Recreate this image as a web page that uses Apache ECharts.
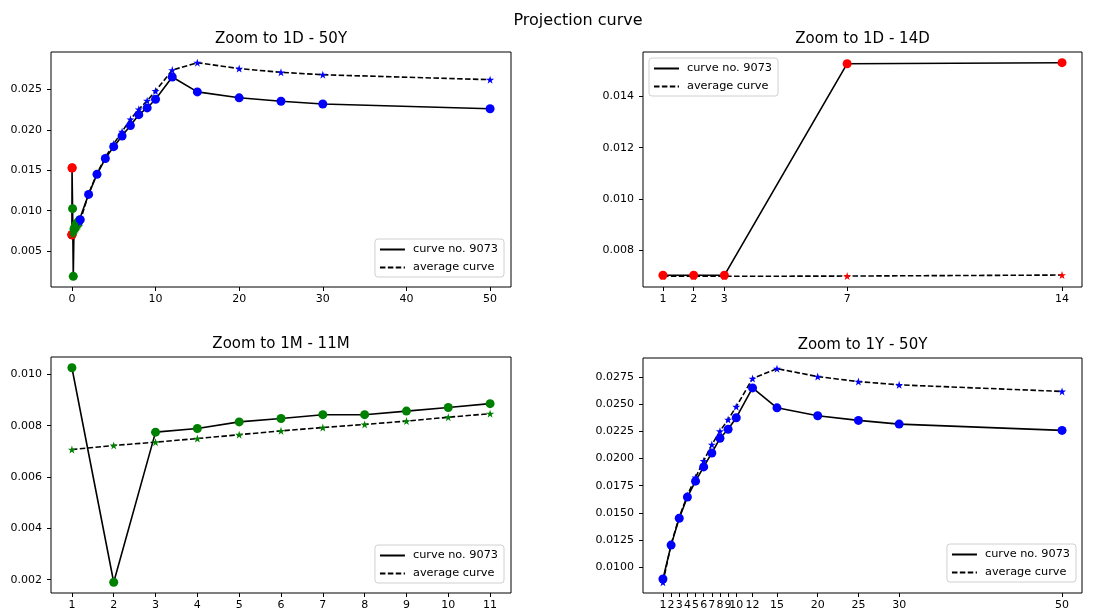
<!DOCTYPE html>
<html><head><meta charset="utf-8">
<script src="https://cdn.jsdelivr.net/npm/echarts@6/dist/echarts.min.js"></script>
<style>html,body{margin:0;padding:0;background:#fff}#c{width:1107px;height:612px}</style>
</head><body><div id="c"></div>
<script>
// ---- data ----
const dayTenors = [1, 2, 3, 7, 14];
const monthTenors = [1, 2, 3, 4, 5, 6, 7, 8, 9, 10, 11];
const yearTenors = [1, 2, 3, 4, 5, 6, 7, 8, 9, 10, 12, 15, 20, 25, 30, 50];
const curveDays = [0.00703, 0.00703, 0.00703, 0.01527, 0.01531];
const avgDays = [0.00699, 0.00699, 0.00699, 0.00700, 0.00704];
const curveMonths = [0.01026, 0.00190, 0.00775, 0.00789, 0.00815, 0.00828, 0.00843, 0.00843, 0.00857, 0.00871, 0.00886];
const avgMonths = [0.00707, 0.00723, 0.00736, 0.00750, 0.00765, 0.00780, 0.00793, 0.00805, 0.00818, 0.00833, 0.00847];
const curveYears = [0.00890, 0.01202, 0.01450, 0.01645, 0.01792, 0.01923, 0.02052, 0.02187, 0.02270, 0.02377, 0.02652, 0.02468, 0.02395, 0.02352, 0.02318, 0.02260];
const avgYears = [0.00859, 0.01210, 0.01460, 0.01660, 0.01826, 0.01978, 0.02129, 0.02253, 0.02360, 0.02479, 0.02738, 0.02829, 0.02756, 0.02710, 0.02680, 0.02619];
const titles = ['Zoom to 1D - 50Y', 'Zoom to 1D - 14D', 'Zoom to 1M - 11M', 'Zoom to 1Y - 50Y'];
const mainTitle = 'Projection curve';
const curveName = 'curve no. 9073';
const avgName = 'average curve';
const ticksX0 = [0, 10, 20, 30, 40, 50];
const ticksY0 = [0.005, 0.010, 0.015, 0.020, 0.025];
const ticksY1 = [0.008, 0.010, 0.012, 0.014];
const ticksY2 = [0.002, 0.004, 0.006, 0.008, 0.010];
const ticksY3 = [0.0100, 0.0125, 0.0150, 0.0175, 0.0200, 0.0225, 0.0250, 0.0275];

// ---- helpers ----
const FONT = 'DejaVu Sans';
function zip(xs, ys) { return xs.map((x, i) => [x, ys[i]]); }
function pad(arr) {
  const mn = Math.min(...arr), mx = Math.max(...arr), d = (mx - mn) * 0.05;
  return [mn - d, mx + d];
}
const STAR = 'path://M50,0 L61.8,35.3 L98,35.3 L68.8,57.1 L79.4,91 L50,69.5 L20.6,91 L31.2,57.1 L2,35.3 L38.2,35.3 Z';
const grids = [
  {left: 51, top: 52, width: 460, height: 235},
  {left: 643, top: 52, width: 439, height: 235},
  {left: 51, top: 357, width: 460, height: 236},
  {left: 643, top: 358, width: 439, height: 235}
];
const tl = {
  dx: dayTenors.map(d => d / 365), mx: monthTenors.map(m => m / 12), yx: yearTenors
};
const panelX = [
  [...tl.dx, ...tl.mx, ...tl.yx],
  dayTenors, monthTenors, yearTenors
];
const panelCurve = [
  [...curveDays, ...curveMonths, ...curveYears], curveDays, curveMonths, curveYears
];
const panelAvg = [
  [...avgDays, ...avgMonths, ...avgYears], avgDays, avgMonths, avgYears
];
const xTicks = [ticksX0, dayTenors, monthTenors, yearTenors];
const yTicks = [ticksY0, ticksY1, ticksY2, ticksY3];
const yDec = [3, 3, 3, 4];
const legendPos = [
  {right: 603, top: 239}, {left: 649, top: 58}, {right: 603, top: 545}, {right: 31, top: 544}
];

const axisLabel = {fontFamily: FONT, fontSize: 11, color: '#000'};
const xAxis = [], yAxis = [], series = [], title = [], legend = [];
for (let g = 0; g < 4; g++) {
  const xr = pad(panelX[g]);
  const yr = pad([...panelCurve[g], ...panelAvg[g]]);
  xAxis.push({
    type: 'value', gridIndex: g, min: xr[0], max: xr[1], position: 'bottom',
    axisLine: {show: false, onZero: false}, splitLine: {show: false},
    axisTick: {show: true, inside: false, length: 4, lineStyle: {color: '#000', width: 1}, customValues: xTicks[g]},
    axisLabel: Object.assign({margin: 7, customValues: xTicks[g], formatter: v => String(Math.round(v))}, axisLabel)
  });
  yAxis.push({
    type: 'value', gridIndex: g, min: yr[0], max: yr[1], position: 'left',
    axisLine: {show: false, onZero: false}, splitLine: {show: false},
    axisTick: {show: true, inside: false, length: 4, lineStyle: {color: '#000', width: 1}, customValues: yTicks[g]},
    axisLabel: Object.assign({margin: 9, customValues: yTicks[g], formatter: v => v.toFixed(yDec[g])}, axisLabel)
  });
  series.push({
    type: 'line', name: curveName, xAxisIndex: g, yAxisIndex: g,
    data: zip(panelX[g], panelCurve[g]), symbol: 'none',
    lineStyle: {color: '#000', width: 1.6}, itemStyle: {color: '#000'}, z: 2, animation: false
  });
  series.push({
    type: 'line', name: avgName, xAxisIndex: g, yAxisIndex: g,
    data: zip(panelX[g], panelAvg[g]), symbol: 'none',
    lineStyle: {color: '#000', width: 1.6, type: [5.5, 2.4]}, itemStyle: {color: '#000'}, z: 2, animation: false
  });
  const g0 = grids[g];
  title.push({
    text: titles[g], left: g0.left + g0.width / 2, top: g0.top - 20, textAlign: 'center', padding: 0,
    textStyle: {fontFamily: FONT, fontSize: 15, fontWeight: 'normal', color: '#000'}
  });
  legend.push(Object.assign({
    orient: 'vertical',
    data: [curveName, avgName],
    itemWidth: 25, itemHeight: 12, itemGap: 7,
    padding: [5, 6, 4, 4], borderColor: '#d0d0d0', borderWidth: 1, borderRadius: 3,
    backgroundColor: 'rgba(255,255,255,0.85)', selectedMode: false,
    itemStyle: {color: 'rgba(0,0,0,0)', borderWidth: 0, opacity: 0},
    lineStyle: {width: 2},
    textStyle: {fontFamily: FONT, fontSize: 11.3, color: '#000', padding: [0, 0, 0, 3]}
  }, legendPos[g]));
}
function scatter(g, xs, ys, color, star) {
  series.push({
    type: 'scatter', xAxisIndex: g, yAxisIndex: g, data: zip(xs, ys),
    symbol: star ? STAR : 'circle', symbolSize: star ? 8 : 9,
    itemStyle: {color: color, opacity: 1}, z: 3, animation: false, silent: true
  });
}
// top-left: all tenors on one year scale
scatter(0, tl.dx, curveDays, '#ff0000', false);
scatter(0, tl.dx, avgDays, '#ff0000', true);
scatter(0, tl.mx, curveMonths, '#008000', false);
scatter(0, tl.mx, avgMonths, '#008000', true);
scatter(0, tl.yx, curveYears, '#0000ff', false);
scatter(0, tl.yx, avgYears, '#0000ff', true);
scatter(1, dayTenors, curveDays, '#ff0000', false);
scatter(1, dayTenors, avgDays, '#ff0000', true);
scatter(2, monthTenors, curveMonths, '#008000', false);
scatter(2, monthTenors, avgMonths, '#008000', true);
scatter(3, yearTenors, curveYears, '#0000ff', false);
scatter(3, yearTenors, avgYears, '#0000ff', true);

title.push({
  text: mainTitle, left: 578, top: 13, textAlign: 'center', padding: 0,
  textStyle: {fontFamily: FONT, fontSize: 16, fontWeight: 'normal', color: '#000'}
});

const chart = echarts.init(document.getElementById('c'), null, {renderer: 'canvas'});
chart.setOption({
  animation: false,
  backgroundColor: '#fff',
  title: title,
  legend: legend,
  grid: grids.map(g => Object.assign({show: true, borderColor: '#000', borderWidth: 1, backgroundColor: 'transparent', containLabel: false}, g)),
  xAxis: xAxis, yAxis: yAxis, series: series
});
</script>
</body></html>
